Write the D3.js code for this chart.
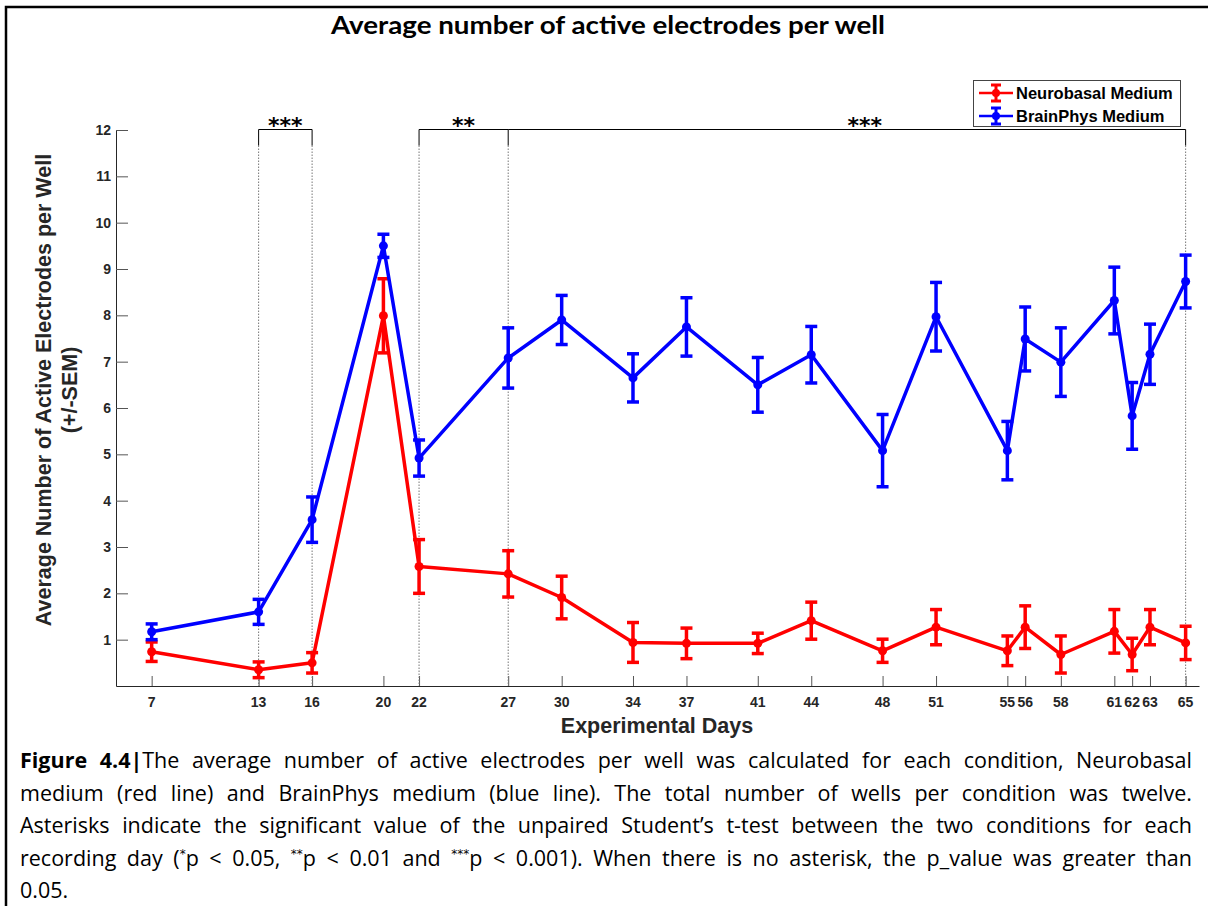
<!DOCTYPE html>
<html lang="en">
<head>
    <meta charset="UTF-8">
    <title>Average number of active electrodes per well</title>
    <script src="https://d3js.org/d3.v7.min.js"></script>
    <style>
        body { margin: 0; background: #fff; }
        #wrap { position: relative; width: 1208px; height: 906px; overflow: hidden; }
        svg { position: absolute; left: 0; top: 0; }
        .tick-label { font-family: "Liberation Sans", Arial, sans-serif; font-size: 14px; font-weight: bold; fill: #262626; }
        .axis-title { font-family: "Liberation Sans", Arial, sans-serif; font-size: 21.5px; font-weight: bold; fill: #262626; text-anchor: middle; }
        .legend-text { font-family: "Liberation Sans", Arial, sans-serif; font-size: 16.5px; font-weight: bold; fill: #000; }
        .star { font-family: "DejaVu Sans", sans-serif; font-size: 22px; font-weight: bold; fill: #000; text-anchor: middle; }
        #caption { position: absolute; left: 20px; top: 744px; width: 1172px;
                   font-family: "Open Sans", Lato, sans-serif; font-size: 21.5px; line-height: 32.6px; color: #000; }
        #caption div { white-space: nowrap; text-align: justify; text-align-last: justify; }
        #caption div.last { text-align-last: left; }
        #caption sup { font-family: "DejaVu Sans", sans-serif; font-size: 12px; vertical-align: 8px; line-height: 0; }
    </style>
</head>
<body>
<div id="wrap">
    <svg id="chart" width="1208" height="906"></svg>
    <div id="caption">
        <div><b>Figure 4.4|</b>The average number of active electrodes per well was calculated for each condition, Neurobasal</div>
        <div>medium (red line) and BrainPhys medium (blue line). The total number of wells per condition was twelve.</div>
        <div>Asterisks indicate the significant value of the unpaired Student’s t-test between the two conditions for each</div>
        <div>recording day (<sup>*</sup>p &lt; 0.05, <sup>**</sup>p &lt; 0.01 and <sup>***</sup>p &lt; 0.001). When there is no asterisk, the p_value was greater than</div>
        <div class="last">0.05.</div>
    </div>
</div>

<script>
    const days = [7, 13, 16, 20, 22, 27, 30, 34, 37, 41, 44, 48, 51, 55, 56, 58, 61, 62, 63, 65];

    const neuroMean = [0.74, 0.35, 0.50, 7.99, 2.58, 2.42, 1.91, 0.94, 0.92, 0.92, 1.41, 0.76, 1.27, 0.76, 1.27, 0.68, 1.18, 0.68, 1.27, 0.93];
    const neuroSem  = [0.21, 0.17, 0.22, 0.80, 0.58, 0.50, 0.46, 0.43, 0.33, 0.22, 0.40, 0.25, 0.38, 0.32, 0.46, 0.40, 0.47, 0.35, 0.38, 0.36];

    const brainMean = [1.17, 1.60, 3.59, 9.50, 4.92, 7.08, 7.90, 6.65, 7.75, 6.50, 7.15, 5.08, 7.97, 5.08, 7.49, 6.99, 8.32, 5.83, 7.16, 8.73];
    const brainSem  = [0.17, 0.27, 0.49, 0.25, 0.39, 0.65, 0.53, 0.52, 0.63, 0.59, 0.61, 0.78, 0.74, 0.63, 0.69, 0.74, 0.72, 0.72, 0.65, 0.57];

    const yTicks = [1, 2, 3, 4, 5, 6, 7, 8, 9, 10, 11, 12];

    // significance brackets between the two media (labelAt = where the stars sit)
    const brackets = [
        { from: 13, to: 16, label: "***", labelAt: 14.5 },
        { from: 22, to: 27, label: "**", labelAt: 24.5 },
        { from: 27, to: 65, label: "***", labelAt: 47 }
    ];

    const series = [
        { name: "Neurobasal Medium", color: "#ff0000", mean: neuroMean, sem: neuroSem },
        { name: "BrainPhys Medium", color: "#0000ff", mean: brainMean, sem: brainSem }
    ];

    const svg = d3.select("#chart");

    // frame of the figure
    svg.append("path")
        .attr("d", "M6,906 V7 H1208")
        .attr("fill", "none")
        .attr("stroke", "#000")
        .attr("stroke-width", 2.5);

    svg.append("text")
        .attr("x", 608)
        .attr("y", 34)
        .attr("text-anchor", "middle")
        .attr("font-family", "Lato, 'Open Sans', sans-serif")
        .attr("font-weight", "bold")
        .attr("font-size", 24)
        .attr("textLength", 554)
        .attr("lengthAdjust", "spacingAndGlyphs")
        .text("Average number of active electrodes per well");

    const x = d3.scaleLinear().domain([5, 65.75]).range([116, 1199]);
    const y = d3.scaleLinear().domain([0, 12]).range([686, 130]);

    // y axis (inward ticks, labels placed separately)
    const yAxis = svg.append("g")
        .attr("transform", "translate(116,0)")
        .call(d3.axisRight(y).tickValues(yTicks).tickSize(12).tickSizeOuter(0).tickFormat(""));
    yAxis.select(".domain").attr("stroke", "#262626");
    yAxis.selectAll(".tick line").attr("stroke", "#555");

    svg.selectAll(".ylab")
        .data(yTicks)
        .enter().append("text")
        .attr("class", "tick-label")
        .attr("x", 111)
        .attr("y", d => y(d) + 5)
        .attr("text-anchor", "end")
        .text(d => d);

    // x axis
    const xAxis = svg.append("g")
        .attr("transform", "translate(0,686)")
        .call(d3.axisTop(x).tickValues(days).tickSize(10).tickSizeOuter(0).tickFormat(""));
    xAxis.select(".domain").attr("stroke", "#262626");
    xAxis.selectAll(".tick line").attr("stroke", "#555");

    svg.selectAll(".xlab")
        .data(days)
        .enter().append("text")
        .attr("class", "tick-label")
        .attr("x", d => x(d))
        .attr("y", 707)
        .attr("text-anchor", "middle")
        .text(d => d);

    svg.append("text")
        .attr("class", "axis-title")
        .attr("x", 657)
        .attr("y", 733)
        .text("Experimental Days");

    const yTitle = svg.append("text")
        .attr("class", "axis-title")
        .attr("transform", "translate(51,390) rotate(-90)");
    yTitle.append("tspan").attr("x", 0).attr("y", 0).text("Average Number of Active Electrodes per Well");
    yTitle.append("tspan").attr("x", 0).attr("y", 26).text("(+/-SEM)");

    // significance brackets with dotted drops to the axis
    const bracketY = 129.5;
    const ends = Array.from(new Set(brackets.flatMap(b => [b.from, b.to])));

    svg.selectAll(".drop")
        .data(ends)
        .enter().append("line")
        .attr("x1", d => x(d)).attr("x2", d => x(d))
        .attr("y1", bracketY + 16).attr("y2", 686)
        .attr("stroke", "#777")
        .attr("stroke-width", 1)
        .attr("stroke-dasharray", "1.5,1.5");

    svg.selectAll(".stub")
        .data(ends)
        .enter().append("line")
        .attr("x1", d => x(d)).attr("x2", d => x(d))
        .attr("y1", bracketY).attr("y2", bracketY + 16)
        .attr("stroke", "#000")
        .attr("stroke-width", 1);

    brackets.forEach(b => {
        svg.append("line")
            .attr("x1", x(b.from)).attr("x2", x(b.to))
            .attr("y1", bracketY).attr("y2", bracketY)
            .attr("stroke", "#000")
            .attr("stroke-width", 1);
        svg.append("text")
            .attr("class", "star")
            .attr("x", x(b.labelAt))
            .attr("y", bracketY + 3)
            .text(b.label);
    });

    // data lines, error bars and markers
    const line = d3.line().x(d => x(d.day)).y(d => y(d.mean));

    series.forEach(s => {
        const pts = days.map((d, i) => ({ day: d, mean: s.mean[i], sem: s.sem[i] }));
        const g = svg.append("g");

        g.selectAll(".err")
            .data(pts)
            .enter().append("line")
            .attr("x1", d => x(d.day)).attr("x2", d => x(d.day))
            .attr("y1", d => y(d.mean - d.sem)).attr("y2", d => y(d.mean + d.sem))
            .attr("stroke", s.color).attr("stroke-width", 3.5);

        ["lo", "hi"].forEach(k => {
            g.selectAll(".cap-" + k)
                .data(pts)
                .enter().append("line")
                .attr("x1", d => x(d.day) - 6).attr("x2", d => x(d.day) + 6)
                .attr("y1", d => y(k === "lo" ? d.mean - d.sem : d.mean + d.sem))
                .attr("y2", d => y(k === "lo" ? d.mean - d.sem : d.mean + d.sem))
                .attr("stroke", s.color).attr("stroke-width", 3.5);
        });

        g.append("path")
            .datum(pts)
            .attr("d", line)
            .attr("fill", "none")
            .attr("stroke", s.color)
            .attr("stroke-width", 3.5)
            .attr("stroke-linejoin", "round");

        g.selectAll(".dot")
            .data(pts)
            .enter().append("circle")
            .attr("cx", d => x(d.day))
            .attr("cy", d => y(d.mean))
            .attr("r", 4.5)
            .attr("fill", s.color);
    });

    // legend
    const legend = svg.append("g");
    legend.append("rect")
        .attr("x", 973.5).attr("y", 80.5)
        .attr("width", 207).attr("height", 46)
        .attr("fill", "#fff")
        .attr("stroke", "#444")
        .attr("stroke-width", 1);

    series.forEach((s, i) => {
        const cy = 93 + i * 23;
        const gx = 996;
        legend.append("line").attr("x1", 979).attr("x2", 1013).attr("y1", cy).attr("y2", cy)
            .attr("stroke", s.color).attr("stroke-width", 2.5);
        legend.append("line").attr("x1", gx).attr("x2", gx).attr("y1", cy - 8).attr("y2", cy + 8)
            .attr("stroke", s.color).attr("stroke-width", 3);
        [cy - 8, cy + 8].forEach(yy => {
            legend.append("line").attr("x1", gx - 5).attr("x2", gx + 5).attr("y1", yy).attr("y2", yy)
                .attr("stroke", s.color).attr("stroke-width", 3);
        });
        legend.append("circle").attr("cx", gx).attr("cy", cy).attr("r", 4).attr("fill", s.color);
        legend.append("text")
            .attr("class", "legend-text")
            .attr("x", 1016)
            .attr("y", cy + 6)
            .text(s.name);
    });
</script>
</body>
</html>
